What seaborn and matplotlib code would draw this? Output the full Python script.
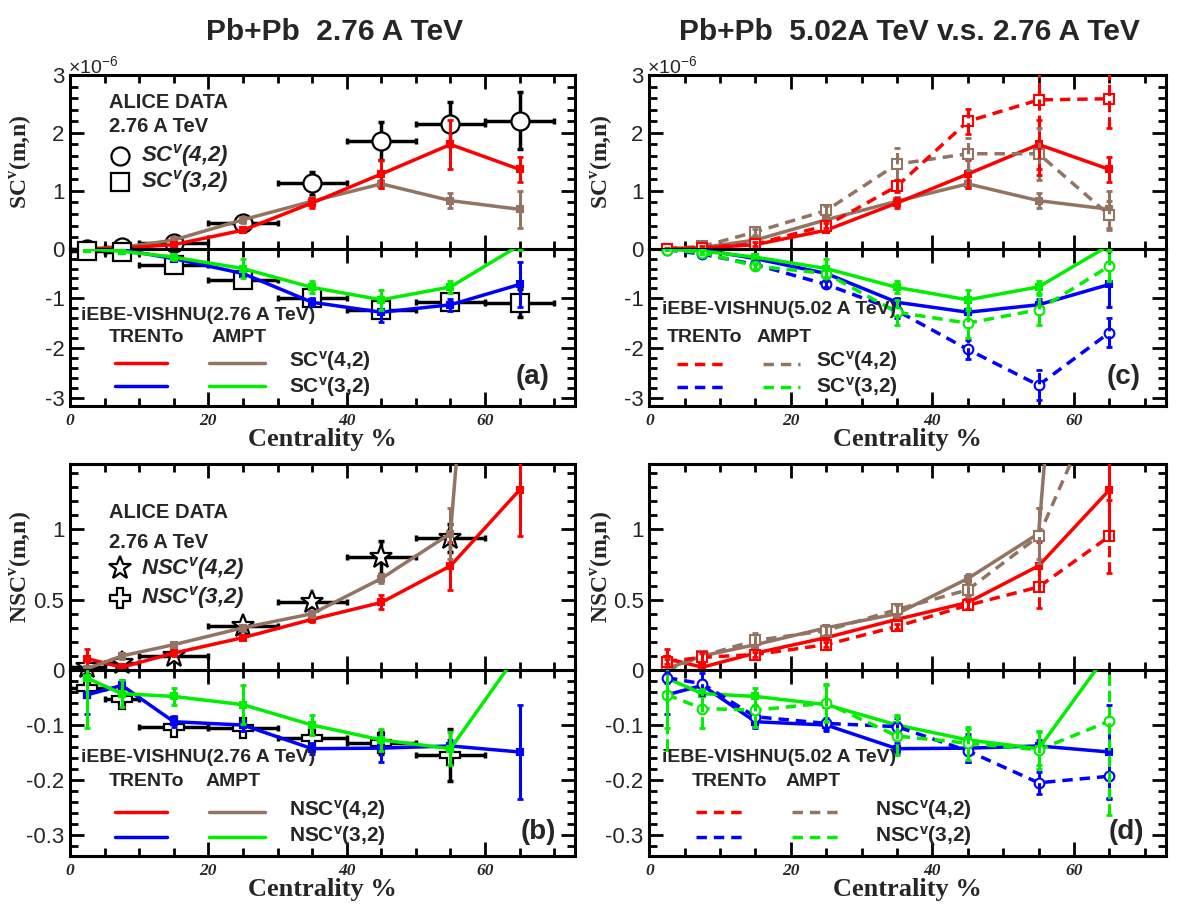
import numpy as np
import pandas as pd
import matplotlib
matplotlib.use("Agg")
import matplotlib.pyplot as plt
import seaborn as sns
from matplotlib.lines import Line2D
from matplotlib.ticker import MultipleLocator, FuncFormatter
from matplotlib.font_manager import FontProperties

# ---------------- data ----------------
centrality = [2.5, 7.5, 15, 25, 35, 45, 55, 65]
bin_low = [0, 5, 10, 20, 30, 40, 50, 60]
bin_high = [5, 10, 20, 30, 40, 50, 60, 70]

# SC(m,n) in units of 1e-6
alice_sc42 = [0.00, 0.03, 0.10, 0.45, 1.13, 1.86, 2.15, 2.21]
alice_sc42_err = [0.02, 0.02, 0.03, 0.05, 0.20, 0.33, 0.38, 0.49]
alice_sc32 = [-0.05, -0.07, -0.32, -0.63, -1.00, -1.23, -1.07, -1.10]
alice_sc32_err = [0.02, 0.02, 0.03, 0.05, 0.06, 0.10, 0.08, 0.28]

trento276_sc42 = [0.00, 0.01, 0.07, 0.32, 0.79, 1.29, 1.80, 1.37]
trento276_sc42_err = [0.01, 0.01, 0.02, 0.04, 0.08, 0.24, 0.42, 0.22]
ampt276_sc42 = [0.00, 0.02, 0.15, 0.50, 0.82, 1.12, 0.83, 0.68]
ampt276_sc42_err = [0.01, 0.01, 0.03, 0.05, 0.08, 0.07, 0.13, 0.32]
trento276_sc32 = [0.00, -0.02, -0.20, -0.50, -1.08, -1.28, -1.13, -0.72]
trento276_sc32_err = [0.01, 0.02, 0.03, 0.06, 0.08, 0.20, 0.12, 0.45]
ampt276_sc32 = [-0.01, -0.05, -0.17, -0.40, -0.78, -1.03, -0.77, 0.07]
ampt276_sc32_err = [0.01, 0.02, 0.05, 0.20, 0.12, 0.20, 0.12, 0.10]

trento502_sc42 = [0.00, 0.02, 0.08, 0.40, 1.08, 2.20, 2.57, 2.59]
trento502_sc42_err = [0.01, 0.02, 0.03, 0.05, 0.10, 0.22, 1.30, 0.50]
ampt502_sc42 = [0.00, 0.04, 0.29, 0.66, 1.46, 1.64, 1.64, 0.58]
ampt502_sc42_err = [0.01, 0.02, 0.05, 0.07, 0.28, 0.28, 0.45, 0.25]
trento502_sc32 = [-0.02, -0.11, -0.32, -0.72, -1.25, -2.03, -2.75, -1.69]
trento502_sc32_err = [0.01, 0.02, 0.04, 0.06, 0.15, 0.20, 0.30, 0.30]
ampt502_sc32 = [-0.02, -0.08, -0.35, -0.50, -1.28, -1.50, -1.23, -0.35]
ampt502_sc32_err = [0.01, 0.03, 0.05, 0.08, 0.25, 0.30, 0.30, 0.30]

# NSC(m,n)
alice_nsc42 = [0.02, 0.05, 0.10, 0.31, 0.48, 0.80, 0.94]
alice_nsc42_err = [0.02, 0.02, 0.02, 0.03, 0.03, 0.12, 0.10]
alice_nsc32 = [-0.032, -0.052, -0.103, -0.105, -0.123, -0.133, -0.155]
alice_nsc32_err = [0.01, 0.01, 0.005, 0.005, 0.01, 0.02, 0.047]

trento276_nsc42 = [0.08, 0.02, 0.12, 0.23, 0.36, 0.48, 0.74, 1.28]
trento276_nsc42_err = [0.07, 0.02, 0.02, 0.02, 0.02, 0.05, 0.17, 0.33]
ampt276_nsc42 = [0.01, 0.10, 0.18, 0.30, 0.40, 0.65, 0.97, 7.0]
ampt276_nsc42_err = [0.02, 0.02, 0.02, 0.02, 0.02, 0.03, 0.18, 0.0]
trento276_nsc32 = [-0.045, -0.028, -0.094, -0.100, -0.143, -0.142, -0.138, -0.149]
trento276_nsc32_err = [0.035, 0.01, 0.01, 0.01, 0.01, 0.025, 0.01, 0.085]
ampt276_nsc32 = [-0.015, -0.043, -0.048, -0.063, -0.100, -0.127, -0.143, 0.034]
ampt276_nsc32_err = [0.09, 0.025, 0.015, 0.035, 0.018, 0.02, 0.03, 0.0]

trento502_nsc42 = [0.06, 0.09, 0.11, 0.18, 0.31, 0.46, 0.59, 0.95]
trento502_nsc42_err = [0.02, 0.03, 0.02, 0.02, 0.02, 0.03, 0.15, 0.26]
ampt502_nsc42 = [0.00, 0.10, 0.21, 0.28, 0.43, 0.57, 0.95, 2.10]
ampt502_nsc42_err = [0.02, 0.02, 0.05, 0.03, 0.03, 0.05, 0.20, 0.0]
trento502_nsc32 = [-0.014, -0.025, -0.085, -0.097, -0.103, -0.147, -0.205, -0.193]
trento502_nsc32_err = [0.01, 0.02, 0.02, 0.01, 0.015, 0.02, 0.02, 0.04]
ampt502_nsc32 = [-0.045, -0.070, -0.073, -0.060, -0.120, -0.133, -0.145, -0.093]
ampt502_nsc32_err = [0.10, 0.035, 0.03, 0.035, 0.035, 0.03, 0.035, 0.17]

x_ticks = [0, 20, 40, 60]

# ---------------- style ----------------
sns.set_theme(style="ticks")
plt.rcParams["font.family"] = ["Liberation Sans", "DejaVu Sans"]
plt.rcParams["axes.unicode_minus"] = False
plt.rcParams["mathtext.fontset"] = "custom"
plt.rcParams["mathtext.rm"] = "Liberation Sans"
plt.rcParams["mathtext.it"] = "Liberation Sans:italic:bold"
plt.rcParams["mathtext.bf"] = "Liberation Serif:bold"
plt.rcParams["mathtext.sf"] = "Liberation Sans:bold"

RED, BLUE, GREEN, BROWN = "#ff0000", "#0000ff", "#00ee00", "#937462"
DASH = (0, (3, 2))

W, H = 1182, 919
fig = plt.figure(figsize=(W / 100, H / 100), dpi=100)


def rect(l, r, top, bot):
    return [l / W, 1 - bot / H, (r - l) / W, (bot - top) / H]


def fx(x):
    return x / W


def fy(y):
    return 1 - y / H


serif_bi = FontProperties(family="Liberation Serif", weight="bold", style="italic", size=12.5)


def style_axis(ax, ymaj, ymin, ylim, lower, hide_zero):
    ax.set_facecolor("none")
    ax.set_xlim(0, 73)
    ax.set_ylim(*ylim)
    ax.xaxis.set_major_locator(MultipleLocator(20))
    ax.xaxis.set_minor_locator(MultipleLocator(5))
    ax.yaxis.set_major_locator(MultipleLocator(ymaj))
    ax.yaxis.set_minor_locator(MultipleLocator(ymin))
    ax.tick_params(which="both", direction="in", top=True, right=True,
                   width=2, color="black", labelsize=16, pad=4)
    ax.tick_params(which="major", length=10)
    ax.tick_params(which="minor", length=5.5)
    if hide_zero:
        ax.yaxis.set_major_formatter(FuncFormatter(lambda v, p: "" if abs(v) < 1e-9 else f"{v:g}"))
    else:
        ax.yaxis.set_major_formatter(FuncFormatter(lambda v, p: f"{v:g}"))
    for s in ax.spines.values():
        s.set_linewidth(2.2)
        s.set_color("black")
    ax.set_xlabel("")
    ax.set_ylabel("")
    if lower:
        ax.set_xticks(x_ticks)
        ax.set_xticklabels([str(t) for t in x_ticks])
        for lbl in ax.get_xticklabels():
            lbl.set_fontproperties(serif_bi)
        ax.tick_params(axis="x", pad=5)
        ax.set_xlabel("Centrality %", family="Liberation Serif", weight="bold",
                      fontsize=19, labelpad=-1)
    else:
        ax.tick_params(labelbottom=False)


def draw_model(ax, y, err, color, dashed=False, marker="s", ms=4, mfc=None):
    ls = DASH if dashed else "-"
    df = pd.DataFrame({"centrality": centrality, "value": y})
    sns.lineplot(data=df, x="centrality", y="value", ax=ax, color=color,
                 linewidth=2.5, linestyle=ls, marker=marker, markersize=ms,
                 markerfacecolor=mfc if mfc else color, markeredgecolor=color,
                 markeredgewidth=1.5, estimator=None, sort=False, legend=False,
                 zorder=4)
    eb = ax.errorbar(centrality, y, yerr=err, fmt="none", ecolor=color,
                     elinewidth=2.2, capsize=2.2, capthick=2, zorder=4)
    if dashed:
        for lc in eb[2]:
            lc.set_linestyle("--")


def draw_alice(ax, y, err, marker, ms):
    n = len(y)
    x = np.array(centrality[:n])
    xerr = [x - np.array(bin_low[:n]), np.array(bin_high[:n]) - x]
    ax.errorbar(x, y, xerr=xerr, yerr=err, fmt="none", ecolor="black",
                elinewidth=2.5, capsize=2.5, capthick=2.5, zorder=2)
    ax.plot(x, y, ls="none", marker=marker, ms=ms, mfc="white", mec="black",
            mew=1.6, zorder=3, clip_on=False)


# ---------------- axes ----------------
a_up = fig.add_axes(rect(70, 575, 75, 248.7))
a_lo = fig.add_axes(rect(70, 575, 248.7, 406))
c_up = fig.add_axes(rect(649.3, 1166, 75, 248.7))
c_lo = fig.add_axes(rect(649.3, 1166, 248.7, 406))
b_up = fig.add_axes(rect(70, 575, 464, 670))
b_lo = fig.add_axes(rect(70, 575, 670, 856))
d_up = fig.add_axes(rect(649.3, 1166, 464, 670))
d_lo = fig.add_axes(rect(649.3, 1166, 670, 856))

# panel (a)
draw_alice(a_up, alice_sc42, alice_sc42_err, "o", 13)
draw_alice(a_lo, alice_sc32, alice_sc32_err, "s", 12.5)
draw_model(a_up, ampt276_sc42, ampt276_sc42_err, BROWN)
draw_model(a_up, trento276_sc42, trento276_sc42_err, RED)
draw_model(a_lo, trento276_sc32, trento276_sc32_err, BLUE)
draw_model(a_lo, ampt276_sc32, ampt276_sc32_err, GREEN)

# panel (c)
draw_model(c_up, ampt276_sc42, ampt276_sc42_err, BROWN)
draw_model(c_up, trento276_sc42, trento276_sc42_err, RED)
draw_model(c_up, ampt502_sc42, ampt502_sc42_err, BROWN, True, "s", 7, "white")
draw_model(c_up, trento502_sc42, trento502_sc42_err, RED, True, "s", 7, "white")
draw_model(c_lo, trento276_sc32, trento276_sc32_err, BLUE)
draw_model(c_lo, ampt276_sc32, ampt276_sc32_err, GREEN)
draw_model(c_lo, trento502_sc32, trento502_sc32_err, BLUE, True, "o", 7, "white")
draw_model(c_lo, ampt502_sc32, ampt502_sc32_err, GREEN, True, "o", 7, "white")

# panel (b)
draw_alice(b_up, alice_nsc42, alice_nsc42_err, "*", 17)
draw_alice(b_lo, alice_nsc32, alice_nsc32_err, "P", 14)
draw_model(b_up, trento276_nsc42, trento276_nsc42_err, RED)
draw_model(b_up, ampt276_nsc42, ampt276_nsc42_err, BROWN)
draw_model(b_lo, trento276_nsc32, trento276_nsc32_err, BLUE)
draw_model(b_lo, ampt276_nsc32, ampt276_nsc32_err, GREEN)

# panel (d)
draw_model(d_up, trento276_nsc42, trento276_nsc42_err, RED)
draw_model(d_up, ampt276_nsc42, ampt276_nsc42_err, BROWN)
draw_model(d_up, ampt502_nsc42, ampt502_nsc42_err, BROWN, True, "s", 7, "white")
draw_model(d_up, trento502_nsc42, trento502_nsc42_err, RED, True, "s", 7, "white")
draw_model(d_lo, trento276_nsc32, trento276_nsc32_err, BLUE)
draw_model(d_lo, ampt276_nsc32, ampt276_nsc32_err, GREEN)
draw_model(d_lo, trento502_nsc32, trento502_nsc32_err, BLUE, True, "o", 7, "white")
draw_model(d_lo, ampt502_nsc32, ampt502_nsc32_err, GREEN, True, "o", 7, "white")

for ax in (a_up, c_up):
    style_axis(ax, 1, 0.2, (0, 3), False, False)
for ax in (a_lo, c_lo):
    style_axis(ax, 1, 0.2, (-3.17, 0), True, True)
for ax in (b_up, d_up):
    style_axis(ax, 0.5, 0.1, (0, 1.464), False, False)
for ax in (b_lo, d_lo):
    style_axis(ax, 0.1, 0.02, (-0.338, 0), True, True)

ylab_kw = dict(family="Liberation Serif", weight="bold", fontsize=17)
a_up.set_ylabel(r"SC$^{\mathbf{v}}$(m,n)", **ylab_kw)
a_up.yaxis.set_label_coords(-0.071, 0.5)
c_up.set_ylabel(r"SC$^{\mathbf{v}}$(m,n)", **ylab_kw)
c_up.yaxis.set_label_coords(-0.067, 0.5)
b_up.set_ylabel(r"NSC$^{\mathbf{v}}$(m,n)", **ylab_kw)
b_up.yaxis.set_label_coords(-0.071, 0.5)
d_up.set_ylabel(r"NSC$^{\mathbf{v}}$(m,n)", **ylab_kw)
d_up.yaxis.set_label_coords(-0.067, 0.5)

# offset text x10^-6
for x0 in (68, 647):
    fig.text(fx(x0), fy(73), r"×10$^{\mathrm{-6}}$", fontsize=14, ha="left", va="baseline")

# titles
fig.text(fx(335), fy(32), "Pb+Pb  2.76 A TeV", ha="center", va="center", fontsize=21.5, weight="bold")
fig.text(fx(909), fy(32), "Pb+Pb  5.02A TeV v.s. 2.76 A TeV", ha="center", va="center",
         fontsize=21.5, weight="bold")


def ftext(x, y, s, **kw):
    kw.setdefault("ha", "left")
    kw.setdefault("va", "center")
    fig.text(fx(x), fy(y), s, **kw)


def fline(x1, x2, y, color, ls="-"):
    fig.add_artist(Line2D([fx(x1), fx(x2)], [fy(y), fy(y)], color=color, lw=2.5,
                          linestyle=ls, transform=fig.transFigure))


def fmarker(x, y, marker, ms):
    fig.add_artist(Line2D([fx(x)], [fy(y)], ls="none", marker=marker, ms=ms,
                          mfc="white", mec="black", mew=1.6, transform=fig.transFigure))


# ALICE legends
alice_legends = [
    ([102, 127, 156, 182], "o", "s", r"SC$^{\mathit{v}}$(4,2)", r"SC$^{\mathit{v}}$(3,2)", 13, 12.5),
    ([513, 542, 568, 598], "*", "P", r"NSC$^{\mathit{v}}$(4,2)", r"NSC$^{\mathit{v}}$(3,2)", 17, 14),
]
for ys, m1, m2, lab1, lab2, ms1, ms2 in alice_legends:
    ftext(109, ys[0], "ALICE DATA", fontsize=14.5, weight="bold")
    ftext(109, ys[1], "2.76 A TeV", fontsize=14.5, weight="bold")
    fmarker(120, ys[2], m1, ms1)
    fmarker(120, ys[3], m2, ms2)
    ftext(141, ys[2], lab1, fontsize=16, weight="bold", style="italic")
    ftext(141, ys[3], lab2, fontsize=16, weight="bold", style="italic")

# model legends: (iebe x, y, energy, TRENTo x, AMPT x, y, red/blue line x, brown/green line x,
#                 line y1, line y2, label x, label y1, label y2, name, linestyle, tag, tag x, tag y)
legs = [
    (81, 315, "2.76", 109, 212, 338, (115, 167), (209, 265), 363, 386, 289, 361, 387, "SC", "-", "(a)", 533, 377),
    (662, 310, "5.02", 667, 757, 337, (677, 729), (763, 800), 364, 387, 816, 361, 387, "SC", DASH, "(c)", 1124, 377),
    (81, 757, "2.76", 109, 206, 782, (115, 167), (209, 265), 812, 837, 289, 810, 836, "NSC", "-", "(b)", 538, 832),
    (662, 757, "5.02", 692, 786, 782, (696, 748), (792, 843), 812, 837, 875, 810, 836, "NSC", DASH, "(d)", 1126, 832),
]
for (xi, yi, en, xT, xA, yTA, rx, bx, yl1, yl2, xl, yt1, yt2, name, ls, tag, tx, ty) in legs:
    ftext(xi, yi, f"iEBE-VISHNU({en} A TeV)", fontsize=14, weight="bold")
    ftext(xT, yTA, "TRENTo", fontsize=14, weight="bold")
    ftext(xA, yTA, "AMPT", fontsize=14, weight="bold")
    fline(rx[0], rx[1], yl1, RED, ls)
    fline(bx[0], bx[1], yl1, BROWN, ls)
    fline(rx[0], rx[1], yl2, BLUE, ls)
    fline(bx[0], bx[1], yl2, GREEN, ls)
    ftext(xl, yt1, name + r"$^{\mathsf{v}}$(4,2)", fontsize=15, weight="bold")
    ftext(xl, yt2, name + r"$^{\mathsf{v}}$(3,2)", fontsize=15, weight="bold")
    ftext(tx, ty, tag, fontsize=20, weight="bold", ha="center")

fig.savefig("out.png", dpi=100)
